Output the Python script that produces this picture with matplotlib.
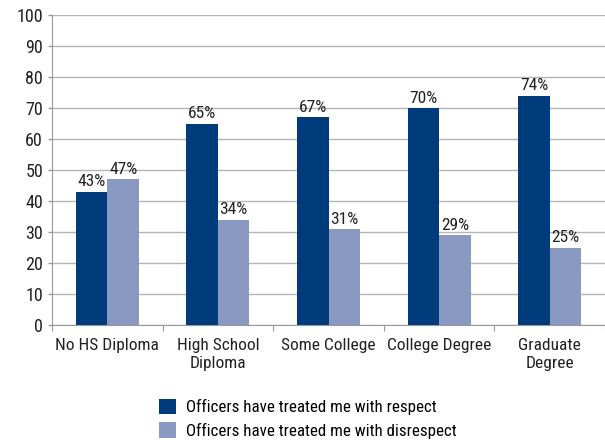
import matplotlib
matplotlib.use("Agg")
import matplotlib.pyplot as plt
import numpy as np

categories = ["No HS Diploma", "High School\nDiploma", "Some College", "College Degree", "Graduate\nDegree"]
respect = [43, 65, 67, 70, 74]
disrespect = [47, 34, 31, 29, 25]
series_names = ["Officers have treated me with respect", "Officers have treated me with disrespect"]
yticks = list(range(0, 101, 10))

plt.rcParams['font.family'] = ['Roboto Condensed', 'DejaVu Sans']

fig = plt.figure(figsize=(6.05, 4.40), dpi=100)
ax = fig.add_axes([0.086, 0.261, 0.914, 0.705])

dark = "#003B7B"
light = "#8A99C2"
x = np.arange(len(categories))
w = 0.285
b1 = ax.bar(x - w/2, respect, w, color=dark, label=series_names[0], zorder=3)
b2 = ax.bar(x + w/2, disrespect, w, color=light, label=series_names[1], zorder=3)

for bars, vals in ((b1, respect), (b2, disrespect)):
    for r, v in zip(bars, vals):
        ax.text(r.get_x() + r.get_width()/2, v + 0.8, f"{v}%", ha="center", va="bottom",
                fontsize=12.5, color="#222222")

ax.set_xlim(-0.5, len(categories) - 0.5)
ax.set_ylim(0, 100)
ax.set_yticks(yticks)
ax.tick_params(axis='y', labelsize=13, colors="#999999", labelcolor="#222222", length=3, width=1)
ax.set_xticks(np.arange(len(categories) + 1) - 0.5, minor=False)
ax.set_xticklabels([])
ax.set_xticks(x, minor=True)
ax.set_xticklabels(categories, minor=True, fontsize=12.5, color="#222222", linespacing=1.25)
ax.tick_params(axis='x', which='major', length=4, colors="#999999")
ax.tick_params(axis='x', which='minor', length=0, pad=9)
ax.grid(axis='y', color="#B5B5B5", linewidth=1, zorder=0)
for s in ["top", "right"]:
    ax.spines[s].set_visible(False)
ax.spines["left"].set_color("#999999")
ax.spines["bottom"].set_color("#999999")

fig.legend(handles=[b1, b2], labels=series_names, loc="upper left",
           bbox_to_anchor=(0.262, 0.094), frameon=False, fontsize=12.2,
           handlelength=1.05, handleheight=1.05, handletextpad=0.55, labelspacing=0.4,
           borderaxespad=0, borderpad=0)

fig.savefig("out.png", dpi=100)
